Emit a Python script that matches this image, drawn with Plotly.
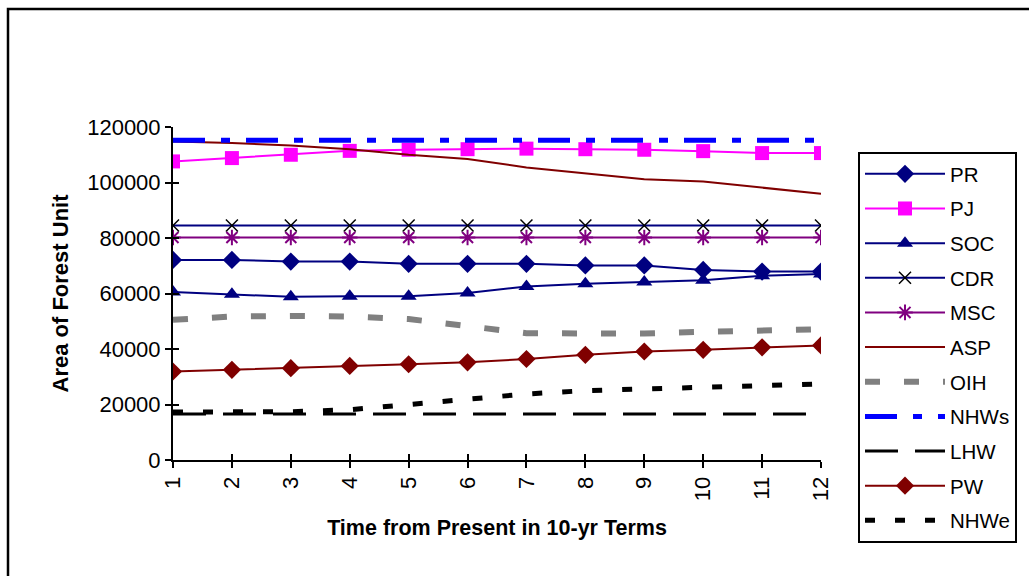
import plotly.graph_objects as go

periods = [1, 2, 3, 4, 5, 6, 7, 8, 9, 10, 11, 12]

PR = [72100, 72100, 71500, 71500, 70700, 70700, 70700, 70100, 70100, 68500, 67900, 67900]
PJ = [107600, 108800, 110000, 111400, 111800, 112000, 112200, 112000, 111800, 111300, 110600, 110600]
SOC = [60500, 59700, 58800, 59000, 59000, 60200, 62500, 63500, 64100, 64800, 66400, 67000]
CDR = [84500] * 12
MSC = [80200] * 12
ASP = [114800, 114200, 113300, 112000, 110000, 108500, 105400, 103400, 101200, 100400, 98200, 95900]
OIH = [50500, 51700, 51900, 51700, 50800, 48300, 45700, 45600, 45600, 46200, 46700, 47100]
NHWs = [115200] * 12
LHW = [16600] * 12
PW = [31900, 32500, 33100, 33900, 34500, 35200, 36400, 37900, 39100, 39700, 40600, 41300]
NHWe = [17300, 17500, 17400, 18100, 19900, 21600, 23800, 25000, 25700, 26100, 26700, 27400]

y_ticks = [0, 20000, 40000, 60000, 80000, 100000, 120000]

NAVY = "#000080"
MAGENTA = "#FF00FF"
PURPLE = "#800080"
MAROON = "#800000"
GRAY = "#808080"
BLUE = "#0000FF"
BLACK = "#000000"

FONT = "Liberation Sans, Arial, sans-serif"

series = [
    dict(name="PR", y=PR, mode="lines+markers", line=dict(color=NAVY, width=2),
         marker=dict(symbol="diamond", size=14, color=NAVY)),
    dict(name="PJ", y=PJ, mode="lines+markers", line=dict(color=MAGENTA, width=2),
         marker=dict(symbol="square", size=14, color=MAGENTA)),
    dict(name="SOC", y=SOC, mode="lines+markers", line=dict(color=NAVY, width=2),
         marker=dict(symbol="triangle-up", size=14, color=NAVY)),
    dict(name="CDR", y=CDR, mode="lines+markers", line=dict(color=NAVY, width=2),
         marker=dict(symbol="x-thin-open", size=12, color=BLACK, line=dict(color=BLACK, width=1.5))),
    dict(name="MSC", y=MSC, mode="lines+markers", line=dict(color=PURPLE, width=2),
         marker=dict(symbol="asterisk-open", size=13, color=PURPLE, line=dict(color=PURPLE, width=2))),
    dict(name="ASP", y=ASP, mode="lines", line=dict(color=MAROON, width=2)),
    dict(name="OIH", y=OIH, mode="lines", line=dict(color=GRAY, width=6, dash="15px,24px")),
    dict(name="NHWs", y=NHWs, mode="lines", line=dict(color=BLUE, width=5, dash="32px,16px,9px,16px")),
    dict(name="LHW", y=LHW, mode="lines", line=dict(color=BLACK, width=3, dash="33px,17px")),
    dict(name="PW", y=PW, mode="lines+markers", line=dict(color=MAROON, width=2),
         marker=dict(symbol="diamond", size=14, color=MAROON)),
    dict(name="NHWe", y=NHWe, mode="lines", line=dict(color=BLACK, width=5, dash="10px,20px")),
]

fig = go.Figure()
for i, s in enumerate(series):
    fig.add_trace(go.Scatter(x=periods, legendgroup=f"g{i}", **s))

# invisible trace to carry the overlay axes that draw the inner half of the crossing ticks
fig.add_trace(go.Scatter(x=periods, y=LHW, xaxis="x2", yaxis="y2", mode="lines",
                         line=dict(width=0), opacity=0, showlegend=False, hoverinfo="skip"))

axis_common = dict(showline=True, linecolor=BLACK, linewidth=2, showgrid=False, zeroline=False,
                   ticks="outside", ticklen=6, tickwidth=2, tickcolor=BLACK,
                   tickfont=dict(family=FONT, size=22, color=BLACK))

fig.update_layout(
    width=1029, height=576,
    margin=dict(l=173, r=208, t=127, b=116, autoexpand=False),
    paper_bgcolor="white", plot_bgcolor="white",
    font=dict(family=FONT, size=20, color=BLACK),
    showlegend=True,
    xaxis=dict(range=[1, 12], tickvals=periods, ticktext=[str(p) for p in periods], tickangle=-90,
               title=dict(text="<b>Time from Present in 10-yr Terms</b>",
                          font=dict(family=FONT, size=21.5, color=BLACK), standoff=20),
               **axis_common),
    yaxis=dict(range=[0, 120000], tickvals=y_ticks, ticktext=[str(v) for v in y_ticks],
               title=dict(text="<b>Area of Forest Unit</b>",
                          font=dict(family=FONT, size=22, color=BLACK), standoff=12),
               **axis_common),
    xaxis2=dict(overlaying="x", anchor="y", side="bottom", range=[1, 12], tickvals=periods,
                showticklabels=False, ticks="inside", ticklen=6, tickwidth=2, tickcolor=BLACK,
                showline=False, showgrid=False, zeroline=False),
    yaxis2=dict(overlaying="y", anchor="x", side="left", range=[0, 120000], tickvals=y_ticks,
                showticklabels=False, ticks="inside", ticklen=6, tickwidth=2, tickcolor=BLACK,
                showline=False, showgrid=False, zeroline=False),
    legend=dict(x=(858 - 173) / 648, y=(460 - 152) / 333, xanchor="left", yanchor="top",
                bordercolor=BLACK, borderwidth=2, bgcolor="white",
                font=dict(family=FONT, size=20.5, color=BLACK),
                tracegroupgap=5, itemwidth=80, traceorder="grouped", maxheight=420),
    shapes=[dict(type="rect", xref="paper", yref="paper",
                 x0=(8 - 173) / 648, x1=(1040 - 173) / 648,
                 y0=(460 - 590) / 333, y1=(460 - 9) / 333,
                 line=dict(color=BLACK, width=2.5), fillcolor="rgba(0,0,0,0)", layer="below")],
)

fig.write_html("out.html")
